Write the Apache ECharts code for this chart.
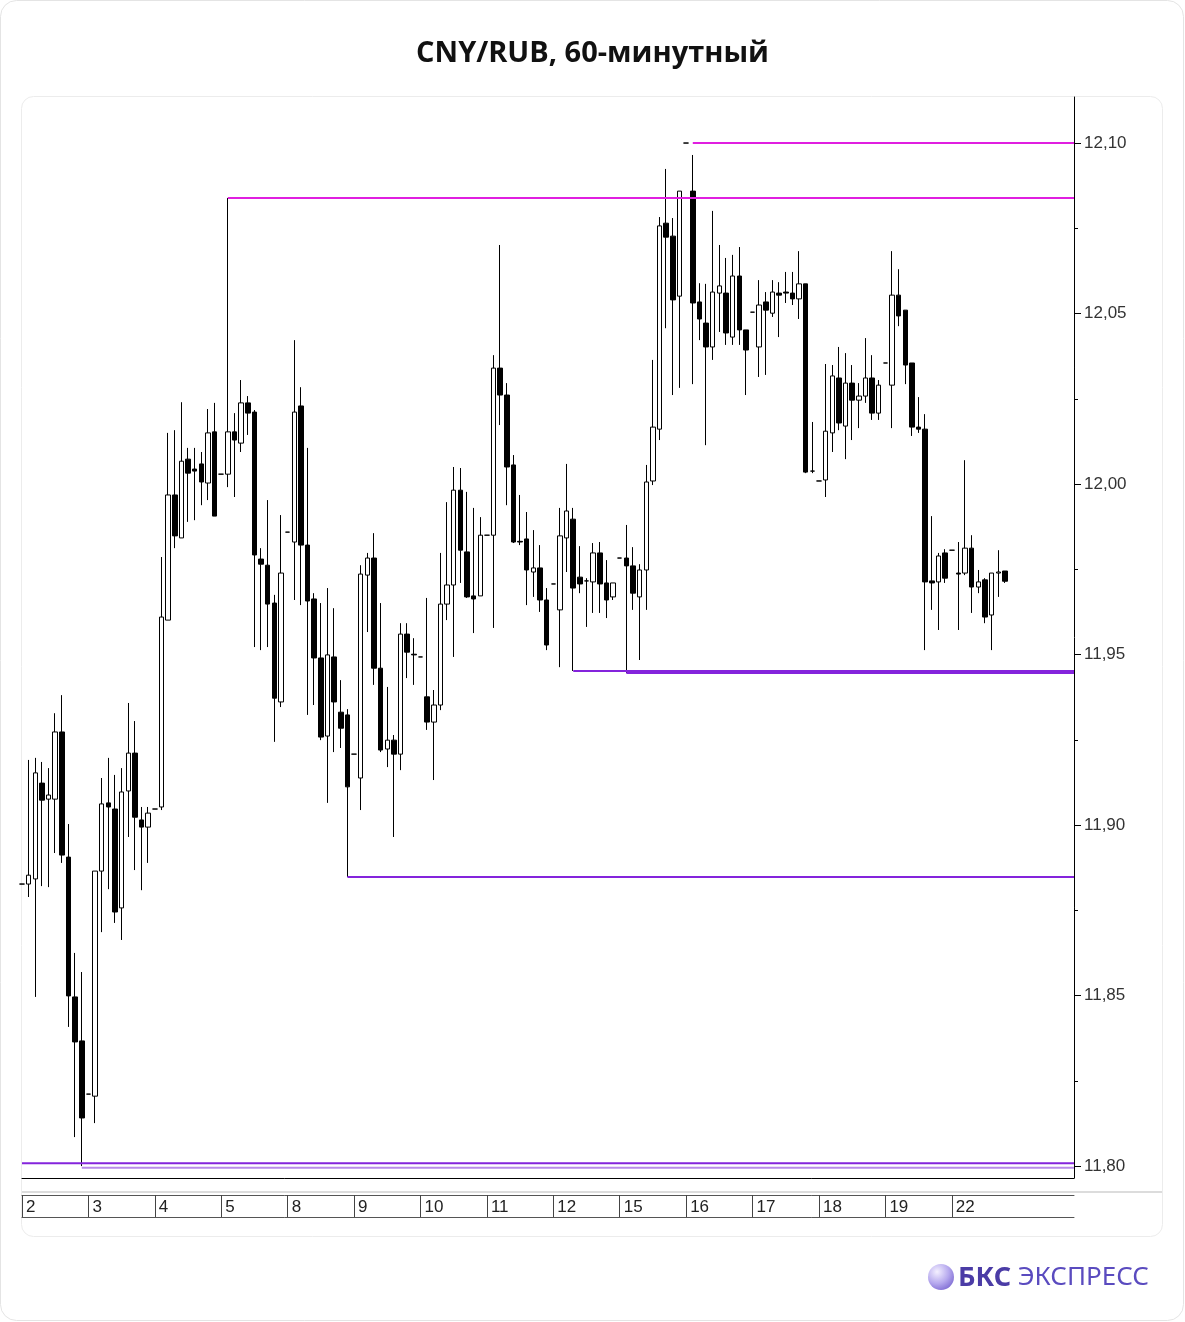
<!DOCTYPE html>
<html><head><meta charset="utf-8">
<script src="https://cdn.jsdelivr.net/npm/echarts@6/dist/echarts.min.js"></script>
<style>html,body{margin:0;padding:0;background:#fff;}#c{width:1185px;height:1322px;}</style>
</head><body><div id="c"></div>
<script>
const days = ['2','3','4','5','8','9','10','11','12','15','16','17','18','19','22'];
const slotsPerDay = 10;
const xMaxSlots = 158.4;

const open = [
11.8827,11.8827,11.8842,11.9123,11.9076,11.9076,11.9273,11.8906,11.8496,11.8367,
11.8211,11.8205,11.8865,11.9065,11.9047,11.8757,11.9100,11.9211,11.9015,11.8994,
11.9047,11.9053,11.9601,11.9968,11.9842,12.0073,12.0044,12.0059,12.0003,12.0153,
12.0029,12.0029,12.0153,12.0120,12.0238,12.0211,11.9780,11.9762,11.9651,11.9361,
11.9859,11.9830,12.0229,11.9821,11.9663,11.9490,11.9261,11.9493,11.9331,11.9323,
11.9208,11.9138,11.9733,11.9783,11.9460,11.9223,11.9249,11.9208,11.9560,11.9501,
11.9493,11.9376,11.9302,11.9352,11.9648,11.9704,11.9982,11.9801,11.9672,11.9672,
11.9850,11.9850,12.0340,12.0261,12.0056,11.9832,11.9839,11.9742,11.9754,11.9660,
11.9707,11.9631,11.9842,11.9897,11.9727,11.9716,11.9713,11.9798,11.9710,11.9669,
11.9783,11.9783,11.9760,11.9669,11.9748,12.0009,12.0161,12.0765,12.0727,12.0551,
12.1000,12.0859,12.0534,12.0472,12.0402,12.0560,12.0560,12.0431,12.0610,12.0452,
12.0504,12.0402,12.0534,12.0501,12.0560,12.0563,12.0560,12.0543,12.0587,12.0038,
12.0009,12.0012,12.0150,12.0311,12.0170,12.0296,12.0246,12.0258,12.0311,12.0208,
12.0355,12.0290,12.0554,12.0510,12.0355,12.0167,12.0161,11.9716,11.9713,11.9798,
11.9806,11.9739,11.9739,11.9812,11.9698,11.9719,11.9616,11.9739,11.9745];
const close = [
11.8827,11.8853,11.9153,11.9073,11.9088,11.9273,11.8912,11.8499,11.8364,11.8141,
11.8211,11.8865,11.9062,11.9053,11.8745,11.9097,11.9211,11.9023,11.8994,11.9035,
11.9047,11.9610,11.9968,11.9848,12.0067,12.0032,12.0038,12.0006,12.0150,11.9906,
12.0029,12.0153,12.0129,12.0238,12.0208,11.9792,11.9765,11.9648,11.9372,11.9739,
11.9859,12.0211,11.9821,11.9657,11.9490,11.9258,11.9499,11.9361,11.9284,11.9112,
11.9208,11.9736,11.9783,11.9460,11.9220,11.9249,11.9208,11.9560,11.9507,11.9499,
11.9493,11.9302,11.9352,11.9648,11.9704,11.9982,11.9806,11.9669,11.9663,11.9850,
11.9850,12.0340,12.0261,12.0050,11.9830,11.9830,11.9748,11.9754,11.9660,11.9528,
11.9707,11.9848,11.9921,11.9695,11.9707,11.9716,11.9798,11.9707,11.9660,11.9710,
11.9783,11.9760,11.9680,11.9748,12.0006,12.0167,12.0757,12.0724,12.0540,12.0859,
12.1000,12.0531,12.0484,12.0402,12.0563,12.0581,12.0443,12.0610,12.0452,12.0393,
12.0504,12.0525,12.0510,12.0563,12.0554,12.0560,12.0543,12.0587,12.0035,12.0038,
12.0009,12.0155,12.0317,12.0179,12.0296,12.0246,12.0258,12.0311,12.0208,12.0290,
12.0355,12.0554,12.0493,12.0349,12.0167,12.0161,11.9713,11.9710,11.9789,11.9724,
11.9806,11.9736,11.9812,11.9698,11.9713,11.9610,11.9739,11.9742,11.9715];
const low = [
11.8827,11.8789,11.8496,11.8821,11.8818,11.8918,11.8889,11.8408,11.8085,11.8000,
11.8211,11.8126,11.8686,11.8812,11.8713,11.8663,11.8965,11.8868,11.8809,11.8889,
11.9047,11.9044,11.9601,11.9812,11.9842,11.9889,11.9894,11.9938,11.9953,11.9906,
12.0029,11.9991,11.9962,12.0094,12.0144,11.9522,11.9513,11.9522,11.9244,11.9346,
11.9859,11.9660,11.9645,11.9323,11.9352,11.9249,11.9065,11.9214,11.9226,11.8848,
11.9208,11.9044,11.9566,11.9411,11.9214,11.9170,11.8965,11.9161,11.9431,11.9411,
11.9493,11.9279,11.9132,11.9337,11.9601,11.9493,11.9710,11.9666,11.9563,11.9672,
11.9850,11.9578,12.0173,11.9938,11.9827,11.9821,11.9645,11.9669,11.9625,11.9513,
11.9707,11.9463,11.9742,11.9452,11.9680,11.9581,11.9622,11.9622,11.9607,11.9660,
11.9783,11.9446,11.9631,11.9484,11.9631,11.9997,12.0129,12.0457,12.0261,12.0282,
12.1000,12.0293,12.0422,12.0114,12.0364,12.0446,12.0408,12.0408,12.0408,12.0261,
12.0504,12.0314,12.0320,12.0490,12.0431,12.0531,12.0525,12.0484,12.0032,12.0032,
12.0009,11.9962,12.0094,12.0158,12.0073,12.0129,12.0164,12.0238,12.0188,12.0188,
12.0355,12.0164,12.0463,12.0293,12.0141,12.0150,11.9513,11.9631,11.9572,11.9710,
11.9806,11.9572,11.9733,11.9622,11.9680,11.9592,11.9513,11.9669,11.9710];
const high = [
11.8827,11.9191,11.9197,11.9185,11.9167,11.9328,11.9381,11.9003,11.8625,11.8569,
11.8211,11.8865,11.9138,11.9197,11.9147,11.9167,11.9358,11.9305,11.9053,11.9053,
11.9047,11.9786,12.0150,12.0158,12.0240,12.0106,12.0106,12.0094,12.0220,12.0238,
12.0029,12.0839,12.0208,12.0305,12.0258,12.0217,11.9812,11.9953,11.9675,11.9909,
11.9859,12.0422,12.0284,12.0106,11.9680,11.9651,11.9695,11.9636,11.9425,11.9340,
11.9208,11.9762,11.9798,11.9856,11.9651,11.9405,11.9264,11.9592,11.9592,11.9548,
11.9493,11.9666,11.9396,11.9798,11.9947,12.0050,12.0047,11.9977,11.9930,11.9903,
11.9850,12.0378,12.0701,12.0296,12.0085,11.9968,11.9918,11.9865,11.9821,11.9695,
11.9707,11.9930,12.0059,11.9930,11.9818,11.9724,11.9827,11.9830,11.9777,11.9710,
11.9783,11.9880,11.9815,11.9765,12.0056,12.0364,12.0783,12.0924,12.0780,12.0859,
12.1000,12.0965,12.0589,12.0587,12.0801,12.0701,12.0663,12.0672,12.0695,12.0452,
12.0504,12.0598,12.0563,12.0598,12.0592,12.0622,12.0622,12.0683,12.0587,12.0182,
12.0009,12.0352,12.0349,12.0402,12.0384,12.0349,12.0296,12.0428,12.0378,12.0305,
12.0355,12.0683,12.0630,12.0510,12.0355,12.0255,12.0205,11.9906,11.9798,11.9809,
11.9806,11.9830,12.0070,11.9850,11.9748,11.9724,11.9739,11.9806,11.9745];

const yLabelValues = [11.80, 11.85, 11.90, 11.95, 12.00, 12.05, 12.10];
const yMinorValues = [11.825, 11.875, 11.925, 11.975, 12.025, 12.075];
const yMin = 11.7965, yMax = 12.1135;
const lastPrice = 11.9715;

const magentaLevels = [12.10, 12.0839];
const magentaStarts = [101, 31];
const purpleLevels = [11.9452, 11.9446, 11.8848, 11.8008, 11.7995];
const purpleStarts = [83, 91, 49, 0, 9];

const dayStarts = days.map((d, i) => i * slotsPerDay);
const candleData = open.map((o, i) => [i, o, close[i], low[i], high[i]]);
const fmt = v => Number(v).toFixed(2).replace('.', ',');

const levelSeries = [];
magentaLevels.forEach((v, i) => levelSeries.push({
  type: 'line', xAxisIndex: 0, yAxisIndex: 0, silent: true, symbol: 'none', z: 5,
  data: [[magentaStarts[i], v], [xMaxSlots, v]],
  lineStyle: { color: '#e01fe0', width: 2 }
}));
purpleLevels.forEach((v, i) => levelSeries.push({
  type: 'line', xAxisIndex: 0, yAxisIndex: 0, silent: true, symbol: 'none', z: 5,
  data: [[purpleStarts[i], v], [xMaxSlots, v]],
  lineStyle: { color: i === 4 ? '#b98be8' : '#8424dc', width: 2 }
}));

const chart = echarts.init(document.getElementById('c'), null, { renderer: 'canvas' });
chart.setOption({
  animation: false,
  backgroundColor: '#fff',
  title: {
    text: 'CNY/RUB, 60-минутный', left: 'center', top: 34,
    textStyle: { fontFamily: 'Open Sans', fontWeight: 'bold', fontSize: 29, color: '#111' }
  },
  grid: [
    { left: 22, top: 97, width: 1052, height: 1081 },
    { left: 22, top: 1195, width: 1052, height: 22 }
  ],
  xAxis: [
    { type: 'value', gridIndex: 0, min: 0, max: xMaxSlots, position: 'bottom',
      axisLine: { show: true, onZero: false, lineStyle: { color: '#000', width: 1 } },
      axisTick: { show: false }, axisLabel: { show: false }, splitLine: { show: false } },
    { type: 'value', gridIndex: 1, min: 0, max: xMaxSlots, position: 'bottom',
      axisLine: { show: true, onZero: false, lineStyle: { color: '#555', width: 1 } },
      axisTick: { show: true, inside: true, length: 22, customValues: dayStarts, lineStyle: { color: '#444', width: 1 } },
      splitLine: { show: false },
      axisLabel: { show: true, inside: true, customValues: dayStarts,
        formatter: v => days[Math.round(v / slotsPerDay)], align: 'left', verticalAlign: 'bottom', margin: 1,
        padding: [0, 0, 0, 4], fontFamily: 'Liberation Sans', fontSize: 17, color: '#222' } },
    { type: 'value', gridIndex: 1, min: 0, max: xMaxSlots, position: 'top',
      axisLine: { show: true, onZero: false, lineStyle: { color: '#555', width: 1 } },
      axisTick: { show: false }, axisLabel: { show: false }, splitLine: { show: false } }
  ],
  yAxis: [
    { type: 'value', gridIndex: 0, position: 'right', min: yMin, max: yMax, scale: true,
      axisLine: { show: true, onZero: false, lineStyle: { color: '#000', width: 1 } },
      axisTick: { show: true, length: 7, customValues: yLabelValues, lineStyle: { color: '#000' } },
      axisLabel: { show: true, customValues: yLabelValues, formatter: fmt, margin: 10,
        fontFamily: 'Liberation Sans', fontSize: 17, color: '#333' },
      splitLine: { show: false } },
    { type: 'value', gridIndex: 0, position: 'right', min: yMin, max: yMax, scale: true,
      axisLine: { show: false, onZero: false },
      axisTick: { show: true, length: 4, customValues: yMinorValues, lineStyle: { color: '#000' } },
      axisLabel: { show: false }, splitLine: { show: false } },
    { type: 'value', gridIndex: 1, min: 0, max: 1, show: false, axisLine: { onZero: false } }
  ],
  series: [
    { type: 'candlestick', xAxisIndex: 0, yAxisIndex: 0, data: candleData, barWidth: 5, z: 3,
      layout: 'horizontal', encode: { x: 0, y: [1, 2, 3, 4] },
      itemStyle: { color: '#ffffff', color0: '#000000', borderColor: '#000000', borderColor0: '#000000', borderWidth: 1 },
      markLine: { silent: true, symbol: ['none', 'none'], animation: false,
        lineStyle: { opacity: 0 },
        data: [{ yAxis: lastPrice }],
        label: { show: true, position: 'end', distance: 7, formatter: () => lastPrice.toFixed(5).replace('.', ','),
          fontFamily: 'Liberation Sans', fontSize: 17, color: '#222', backgroundColor: '#fff',
          borderColor: '#444', borderWidth: 1, padding: [2, 2, 1, 2] } } }
  ].concat(levelSeries),
  graphic: [
    { type: 'rect', silent: true, shape: { x: 0.5, y: 0.5, width: 1183, height: 1320, r: 16 },
      style: { fill: 'none', stroke: '#e4e4e4', lineWidth: 1 } },
    { type: 'rect', silent: true, shape: { x: 21.5, y: 96.5, width: 1141, height: 1140, r: 12 },
      style: { fill: 'none', stroke: '#ececec', lineWidth: 1 } },
    { type: 'line', silent: true, shape: { x1: 22, y1: 1192, x2: 1162, y2: 1192 },
      style: { stroke: '#dcdcdc', lineWidth: 2 } },
    { type: 'circle', silent: true, shape: { cx: 941, cy: 1277, r: 13 },
      style: { fill: new echarts.graphic.RadialGradient(0.35, 0.3, 0.9, [
        { offset: 0, color: '#f4f0ff' }, { offset: 0.5, color: '#b6a9ee' }, { offset: 1, color: '#6a55c9' }]) } },
    { type: 'text', silent: true, x: 958, y: 1278,
      style: { text: '{b|БКС}  {r|ЭКСПРЕСС}', verticalAlign: 'middle',
        rich: { b: { fontFamily: 'Noto Sans', fontWeight: 'bold', fontSize: 27, fill: '#4b3ca6' },
                r: { fontFamily: 'Noto Sans', fontWeight: 'normal', fontSize: 26, fill: '#5a4bbf' } } } }
  ]
});
</script></body></html>
